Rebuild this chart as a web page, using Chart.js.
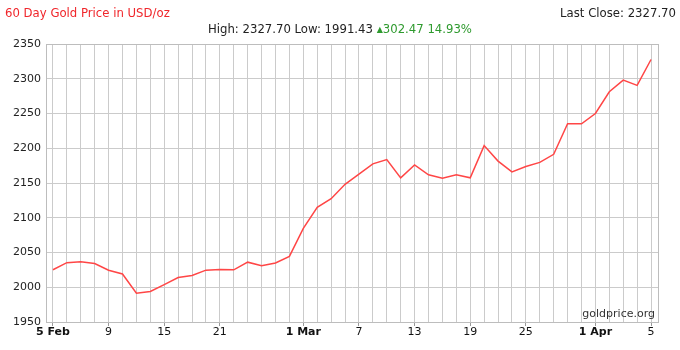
<!DOCTYPE html>
<html>
<head>
<meta charset="utf-8">
<title>60 Day Gold Price</title>
<script src="https://cdn.jsdelivr.net/npm/chart.js@4.4.1/dist/chart.umd.min.js"></script>
<style>
  body { margin: 0; background: #fff; }
  #wrap { position: relative; width: 680px; height: 350px; font-family: "DejaVu Sans", sans-serif; font-size: 11.7px; color: #222; }
  #goldChart { position: absolute; left: 0; top: 0; }
  .txt { position: absolute; white-space: nowrap; line-height: 14px; }
  #title { left: 5px; top: 6px; color: #f0262b; }
  #last { right: 4px; top: 6px; }
  #stats { left: 0; width: 680px; text-align: center; top: 22px; }
  #stats .up { color: #2e9a2e; }
  #stats .tri { font-size: 8px; vertical-align: 1px; }
  #brand { right: 25px; top: 307px; color: #333; font-size: 11px; }
</style>
</head>
<body>
<div id="wrap">
  <canvas id="goldChart" width="680" height="350"></canvas>
  <div class="txt" id="title">60 Day Gold Price in USD/oz</div>
  <div class="txt" id="last">Last Close: 2327.70</div>
  <div class="txt" id="stats">High: 2327.70 Low: 1991.43 <span class="up"><span class="tri">▲</span>302.47 14.93%</span></div>
  <div class="txt" id="brand">goldprice.org</div>
</div>
<script>
// trading days shown on the chart
const days = [
  "Feb 5", "Feb 6", "Feb 7", "Feb 8", "Feb 9", "Feb 12", "Feb 13", "Feb 14", "Feb 15", "Feb 16",
  "Feb 19", "Feb 20", "Feb 21", "Feb 22", "Feb 26", "Feb 27", "Feb 28", "Feb 29",
  "Mar 1", "Mar 4", "Mar 5", "Mar 6", "Mar 7", "Mar 8", "Mar 11", "Mar 12", "Mar 13", "Mar 14",
  "Mar 15", "Mar 18", "Mar 19", "Mar 20", "Mar 21", "Mar 22", "Mar 25", "Mar 26", "Mar 27",
  "Mar 28", "Mar 29", "Apr 1", "Apr 2", "Apr 3", "Apr 4", "Apr 5"
];

// USD/oz
const prices = [
  2025.23, 2035.4, 2036.6, 2034.2, 2024.4, 2019.1, 1991.43, 1994.0, 2003.8, 2013.9,
  2016.9, 2024.6, 2025.6, 2025.1, 2036.1, 2030.9, 2034.9, 2044.5,
  2084.6, 2115.1, 2127.4, 2148.1, 2162.7, 2177.5, 2183.8, 2157.4, 2176.0, 2161.8,
  2156.9, 2161.8, 2157.4, 2203.8, 2181.5, 2166.0, 2173.8, 2179.6, 2191.3,
  2235.2, 2235.2, 2250.0, 2281.3, 2298.0, 2290.4, 2327.70
];

const tickDays = ["Feb 5", "Feb 9", "Feb 15", "Feb 21", "Mar 1", "Mar 7", "Mar 13", "Mar 19", "Mar 25", "Apr 1", "Apr 5"];
const tickLabels = ["5 Feb", "9", "15", "21", "1 Mar", "7", "13", "19", "25", "1 Apr", "5"];
const boldLabels = ["5 Feb", "1 Mar", "1 Apr"];

const gridColor = "#cbcbcb";
const fontFamily = "'DejaVu Sans', sans-serif";

function labelAt(i) {
  const k = tickDays.indexOf(days[i]);
  return k < 0 ? "" : tickLabels[k];
}

// box around the plot area (top and right edges)
const frame = {
  id: "frame",
  afterDraw(chart) {
    const { ctx, chartArea: a } = chart;
    ctx.save();
    ctx.strokeStyle = "#bdbdbd";
    ctx.lineWidth = 1;
    ctx.strokeRect(Math.round(a.left) + 0.5, Math.round(a.top) + 0.5, Math.round(a.right - a.left), Math.round(a.bottom - a.top));
    ctx.restore();
  },
};

const goldChart = new Chart(document.querySelector("#goldChart"), {
  type: "line",
  data: {
    labels: days,
    datasets: [
      {
        data: prices,
        borderColor: "#ff4646",
        borderWidth: 1.5,
        pointRadius: 0,
        tension: 0,
        fill: false,
      },
    ],
  },
  options: {
    responsive: false,
    animation: false,
    layout: { padding: { top: 44, right: 22, left: 0, bottom: 0 } },
    plugins: {
      legend: { display: false },
      tooltip: { enabled: false },
    },
    scales: {
      x: {
        offset: true,
        grid: {
          color: gridColor,
          tickLength: 4,
          tickColor: (c) => (c.index !== undefined && labelAt(c.index) ? "#999" : "rgba(0,0,0,0)"),
        },
        border: { color: "#bdbdbd" },
        ticks: {
          autoSkip: false,
          maxRotation: 0,
          padding: 0,
          color: "#111",
          font: (c) => ({
            family: fontFamily,
            size: 11,
            weight: boldLabels.includes(labelAt(c.index)) ? "bold" : "normal",
          }),
          callback: (value, i) => labelAt(i),
        },
        afterFit(scale) {
          scale.height = 28;
        },
      },
      y: {
        min: 1950,
        max: 2350,
        grid: { color: gridColor, drawTicks: false },
        border: { color: "#bdbdbd" },
        ticks: {
          stepSize: 50,
          padding: 5,
          color: "#222",
          font: { family: fontFamily, size: 11 },
          callback: (value) => String(value),
        },
        afterFit(scale) {
          scale.width = 46;
        },
      },
    },
  },
  plugins: [frame],
});
</script>
</body>
</html>
